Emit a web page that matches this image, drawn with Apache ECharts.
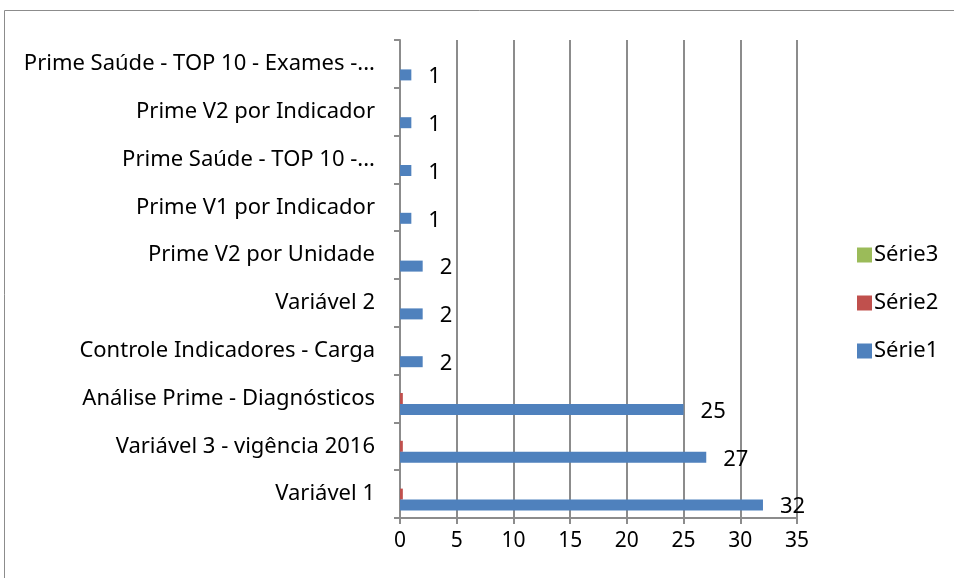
<!DOCTYPE html>
<html lang="pt">
<head>
	<meta charset="UTF-8">
	<title>Prime - barras</title>
	<script src="https://cdn.jsdelivr.net/npm/echarts@6/dist/echarts.min.js"></script>
	<style>
		body { margin: 0; background: #fff; }
	</style>
</head>
<body>
	<div id="main" style="width: 954px; height: 578px;"></div>
	<script>
		// categorias, de baixo para cima
		var categories = [
			'Variável 1',
			'Variável 3 - vigência 2016',
			'Análise Prime - Diagnósticos',
			'Controle Indicadores - Carga',
			'Variável 2',
			'Prime V2 por Unidade',
			'Prime V1 por Indicador',
			'Prime Saúde - TOP 10 -...',
			'Prime V2 por Indicador',
			'Prime Saúde - TOP 10 - Exames -...'
		]
		var serie1 = [32, 27, 25, 2, 2, 2, 1, 1, 1, 1]
		var serie2 = [0.25, 0.25, 0.25, 0, 0, 0, 0, 0, 0, 0]
		var serie3 = [0, 0, 0, 0, 0, 0, 0, 0, 0, 0]
		var xTicks = [0, 5, 10, 15, 20, 25, 30, 35]

		var font = '"Noto Sans", "Open Sans", sans-serif'
		var myChart = echarts.init(document.getElementById('main'))

		var option = {
			animation: false,
			textStyle: { fontFamily: font },
			graphic: [{
				type: 'rect',
				shape: { x: 4.5, y: 10.5, width: 1000, height: 1000 },
				style: { fill: 'none', stroke: '#8c8c8c', lineWidth: 1 },
				silent: true
			}],
			legend: {
				orient: 'vertical',
				left: 852,
				top: 239,
				itemWidth: 15,
				itemHeight: 15,
				itemGap: 26,
				icon: 'rect',
				data: ['Série3', 'Série2', 'Série1'],
				textStyle: { fontSize: 22, color: '#000', fontFamily: font, padding: [0, 0, 0, -3] }
			},
			grid: {
				left: 400,
				right: 157,
				top: 40,
				bottom: 60,
				containLabel: false
			},
			xAxis: {
				type: 'value',
				min: xTicks[0],
				max: xTicks[xTicks.length - 1],
				interval: 5,
				axisLine: { show: true, lineStyle: { color: '#8c8c8c', width: 2 } },
				axisTick: { show: true, length: 6, lineStyle: { color: '#8c8c8c', width: 2 } },
				splitLine: { show: true, lineStyle: { color: '#8c8c8c', width: 2 } },
				axisLabel: { fontSize: 21, color: '#000', margin: 13, fontFamily: font }
			},
			yAxis: {
				type: 'category',
				data: categories,
				axisLine: { show: true, lineStyle: { color: '#8c8c8c', width: 2 } },
				axisTick: { show: true, length: 6, lineStyle: { color: '#8c8c8c', width: 2 } },
				axisLabel: { fontSize: 22, color: '#000', margin: 25, fontFamily: font }
			},
			// a ordem das séries fica invertida para a Série1 ficar em baixo
			series: [
				{
					name: 'Série3',
					type: 'bar',
					data: serie3,
					barWidth: 11,
					barGap: '0%',
					itemStyle: { color: '#9BBB59' }
				},
				{
					name: 'Série2',
					type: 'bar',
					data: serie2,
					barWidth: 11,
					barGap: '0%',
					itemStyle: { color: '#C0504D' }
				},
				{
					name: 'Série1',
					type: 'bar',
					data: serie1,
					barWidth: 11,
					barGap: '0%',
					itemStyle: { color: '#4F81BD' },
					label: {
						show: true,
						position: 'right',
						distance: 17,
						fontSize: 22,
						color: '#000',
						fontFamily: font,
						offset: [0, 2]
					}
				}
			]
		}
		myChart.setOption(option)
	</script>
</body>
</html>
